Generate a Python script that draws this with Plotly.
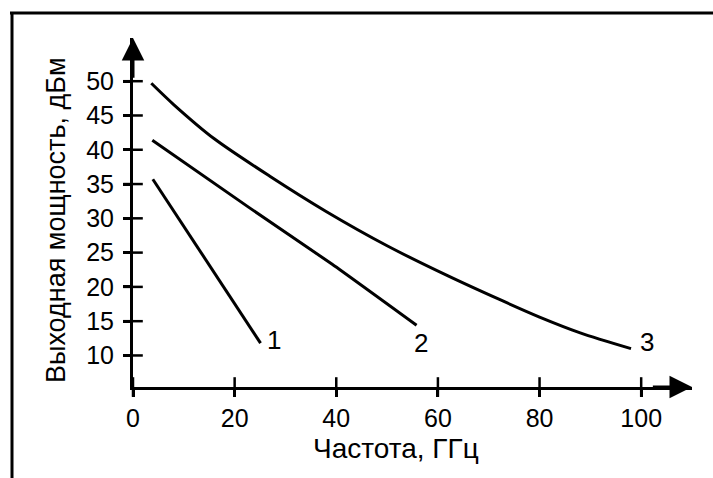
import plotly.graph_objects as go

# ---- data ----
c1_x = [3.9, 14.4, 25.1]
c1_y = [35.7, 23.9, 11.8]
c2_x = [3.8, 22.8, 39.2, 55.8]
c2_y = [41.4, 31.6, 23.3, 14.4]
c3_x = [3.6, 8.0, 16.0, 27.0, 38.0, 50.0, 62.0, 72.0, 80.0, 88.0, 98.0]
c3_y = [49.7, 46.6, 41.6, 36.1, 31.0, 26.0, 21.6, 18.2, 15.6, 13.3, 11.0]

curve_labels = ["1", "2", "3"]
label_x = [27.8, 56.7, 101.2]
label_y = [11.9, 11.5, 11.6]

x_ticks = [0, 20, 40, 60, 80, 100]
y_ticks = [10, 15, 20, 25, 30, 35, 40, 45, 50]
x_title = "Частота, ГГц"
y_title = "Выходная мощность, дБм"

X_RANGE = [0, 110]
Y_RANGE = [5.4, 56.3]

# ---- layout constants ----
W, H = 713, 478
L, R, T, B = 133, 21, 38, 91
FONT = "Liberation Sans, Arial, sans-serif"
INK = "black"

pw, ph = W - L - R, H - T - B


def px(xp):
    return (xp - L) / pw


def py(yp):
    return 1 - (yp - T) / ph


fig = go.Figure()
fig.add_trace(go.Scatter(x=c1_x, y=c1_y, mode="lines", line=dict(color=INK, width=3), showlegend=False))
fig.add_trace(go.Scatter(x=c2_x, y=c2_y, mode="lines",
                         line=dict(color=INK, width=3, shape="spline", smoothing=0.5), showlegend=False))
fig.add_trace(go.Scatter(x=c3_x, y=c3_y, mode="lines",
                         line=dict(color=INK, width=3, shape="spline", smoothing=0.8), showlegend=False))
fig.add_trace(go.Scatter(x=label_x, y=label_y, mode="text", text=curve_labels,
                         textfont=dict(family=FONT, size=26, color=INK), showlegend=False, cliponaxis=False))

# crossing tick marks (both sides of each axis line), placed at the tick values
fig.add_trace(go.Scatter(x=x_ticks, y=[Y_RANGE[0]] * len(x_ticks), mode="markers", cliponaxis=False,
                         marker=dict(symbol="line-ns-open", size=14, color=INK, line=dict(color=INK, width=2.5)),
                         showlegend=False, hoverinfo="skip"))
fig.add_trace(go.Scatter(x=[X_RANGE[0]] * len(y_ticks), y=y_ticks, mode="markers", cliponaxis=False,
                         marker=dict(symbol="line-ew-open", size=14, color=INK, line=dict(color=INK, width=2.5)),
                         showlegend=False, hoverinfo="skip"))

axis_common = dict(showgrid=False, zeroline=False, tickcolor=INK, tickwidth=2.5, ticklen=7,
                   ticks="outside", showline=True, linecolor=INK, linewidth=3,
                   tickfont=dict(family=FONT, size=25, color=INK))
fig.update_layout(
    width=W, height=H,
    margin=dict(l=L, r=R, t=T, b=B),
    paper_bgcolor="white", plot_bgcolor="white",
    xaxis=dict(range=X_RANGE, tickvals=x_ticks, **axis_common),
    yaxis=dict(range=Y_RANGE, tickvals=y_ticks, ticklabelstandoff=4, **axis_common),
    showlegend=False,
)

# axis arrowheads
fig.add_annotation(x=X_RANGE[1], y=Y_RANGE[0], ax=X_RANGE[1] - 8, ay=Y_RANGE[0],
                   xref="x", yref="y", axref="x", ayref="y", text="", showarrow=True,
                   arrowhead=2, arrowsize=1.5, arrowwidth=3, arrowcolor=INK)
fig.add_annotation(x=X_RANGE[0], y=Y_RANGE[1], ax=X_RANGE[0], ay=Y_RANGE[1] - 6,
                   xref="x", yref="y", axref="x", ayref="y", text="", showarrow=True,
                   arrowhead=2, arrowsize=1.5, arrowwidth=3, arrowcolor=INK)

# axis titles
fig.add_annotation(text=x_title, xref="paper", yref="paper", x=px(396), y=py(448),
                   showarrow=False, font=dict(family=FONT, size=28, color=INK),
                   xanchor="center", yanchor="middle")
fig.add_annotation(text=y_title, xref="paper", yref="paper", x=px(56), y=py(220),
                   showarrow=False, textangle=-90, font=dict(family=FONT, size=27, color=INK),
                   xanchor="center", yanchor="middle")

# frame (top and left edges of the scanned box)
fig.add_shape(type="line", xref="paper", yref="paper", x0=px(10), x1=px(713), y0=py(13), y1=py(13),
              line=dict(color=INK, width=3))
fig.add_shape(type="line", xref="paper", yref="paper", x0=px(12), x1=px(12), y0=py(12), y1=py(478),
              line=dict(color=INK, width=3))

fig.write_html("out.html", config={"displayModeBar": False},
               post_script="document.body.style.margin='0';")
